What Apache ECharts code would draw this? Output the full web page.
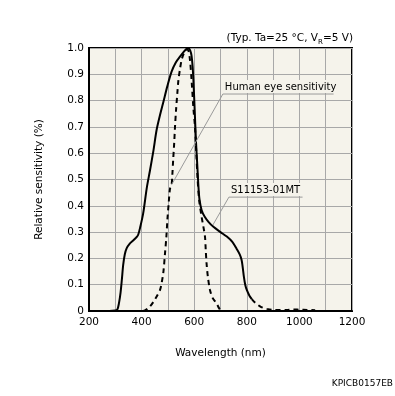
<!DOCTYPE html>
<html>
<head>
<meta charset="utf-8">
<script src="https://cdn.jsdelivr.net/npm/echarts@6/dist/echarts.min.js"></script>
<style>
html,body{margin:0;padding:0;background:#fff;}
#c{width:395px;height:396px;}
</style>
</head>
<body>
<div id="c"></div>
<script>
// Data (wavelength nm, relative sensitivity)
var s11153 = [[200,0],[250,0],[300,0.002],[308,0.006],[314,0.03],[320,0.07],[325,0.12],[330,0.175],[336,0.215],[343,0.238],[355,0.256],[370,0.27],[380,0.28],[387,0.29],[395,0.32],[406,0.371],[420,0.47],[432,0.535],[445,0.61],[457,0.688],[470,0.745],[483,0.796],[498,0.855],[514,0.91],[530,0.945],[546,0.967],[560,0.985],[571,0.996],[578,1.0],[585,0.99],[590,0.97],[594,0.93],[597,0.878],[602,0.76],[607,0.64],[612,0.55],[616,0.475],[620,0.425],[628,0.384],[640,0.358],[655,0.338],[673,0.32],[700,0.30],[724,0.283],[745,0.263],[762,0.235],[773,0.215],[780,0.195],[784,0.17],[789,0.13],[794,0.10],[800,0.08],[810,0.058],[819,0.045]];
var s11153Tail = [[819,0.045],[830,0.033],[840,0.025],[855,0.015],[876,0.008],[900,0.004],[950,0.004],[976,0.006],[1000,0.005],[1030,0.004],[1060,0.003]];
var humanEye = [[405,0],[413,0.002],[430,0.015],[445,0.035],[460,0.06],[470,0.08],[476,0.105],[483,0.15],[489,0.219],[494,0.28],[498,0.346],[503,0.41],[508,0.465],[514,0.48],[517,0.52],[520,0.574],[524,0.64],[527,0.70],[531,0.764],[536,0.83],[540,0.878],[546,0.92],[552,0.954],[560,0.978],[571,0.995],[578,0.99],[584,0.954],[590,0.878],[597,0.77],[603,0.70],[608,0.60],[613,0.50],[619,0.42],[628,0.359],[635,0.32],[641,0.283],[644,0.23],[647,0.181],[652,0.13],[660,0.08],[670,0.05],[685,0.029],[695,0.01],[704,0]];
var xTickLabels = ['200','400','600','800','1000','1200'];
var yTickLabels = ['0','0.1','0.2','0.3','0.4','0.5','0.6','0.7','0.8','0.9','1.0'];

var FONT = 'DejaVu Sans';
var BG = '#f5f3eb';
var chart = echarts.init(document.getElementById('c'), null, {renderer:'canvas'});
var option = {
  animation:false,
  backgroundColor:'#fff',
  textStyle:{fontFamily:FONT},
  grid:{left:89,top:48,width:263,height:263,show:true,backgroundColor:BG,borderColor:'#000',borderWidth:2,containLabel:false},
  xAxis:{
    type:'value',min:200,max:1200,interval:100,
    name:'Wavelength (nm)',nameLocation:'middle',nameGap:37,
    nameTextStyle:{fontFamily:FONT,fontSize:10.5,color:'#000'},
    axisLine:{show:true,lineStyle:{color:'#000',width:2}},
    axisTick:{show:false},
    axisLabel:{margin:6,fontFamily:FONT,fontSize:10.5,color:'#000',
      formatter:function(v){var s=String(Math.round(v));return xTickLabels.indexOf(s)>=0?s:'';}},
    splitLine:{show:true,lineStyle:{color:'#a8a8a8',width:1}}
  },
  yAxis:{
    type:'value',min:0,max:1,interval:0.1,
    name:'Relative sensitivity (%)',nameLocation:'middle',nameGap:44,
    nameTextStyle:{fontFamily:FONT,fontSize:10.5,color:'#000'},
    axisLine:{show:true,lineStyle:{color:'#000',width:2}},
    axisTick:{show:false},
    axisLabel:{margin:5,fontFamily:FONT,fontSize:10.5,color:'#000',
      formatter:function(v){return yTickLabels[Math.round(v*10)];}},
    splitLine:{show:true,lineStyle:{color:'#a8a8a8',width:1}}
  },
  series:[
    {name:'Human eye sensitivity',type:'line',data:humanEye,showSymbol:false,smooth:0.3,
     lineStyle:{color:'#000',width:2,type:[5,4]},z:3},
    {name:'S11153-01MT',type:'line',data:s11153,showSymbol:false,smooth:0.3,
     lineStyle:{color:'#000',width:2},z:4},
    {name:'S11153-01MT tail',type:'line',data:s11153Tail,showSymbol:false,smooth:0.3,
     lineStyle:{color:'#000',width:2,type:[5,4]},z:4}
  ]
};
chart.setOption(option);

// annotations placed from data coordinates
function P(x,y){return chart.convertToPixel({gridIndex:0},[x,y]);}
var eyeA = P(514,0.48), eyeB = P(709,0.825), eyeC = P(1130,0.825);
var sA = P(671,0.327), sB = P(732,0.433), sC = P(1012,0.433);
var g = [
  {type:'line',shape:{x1:eyeA[0],y1:eyeA[1],x2:eyeB[0],y2:eyeB[1]},style:{stroke:'#9a9a9a',lineWidth:1},z:10},
  {type:'line',shape:{x1:eyeB[0],y1:eyeB[1],x2:eyeC[0],y2:eyeC[1]},style:{stroke:'#9a9a9a',lineWidth:1},z:10},
  {type:'text',x:eyeB[0]+1,y:eyeB[1]-1,style:{text:'Human eye sensitivity',font:'10px "DejaVu Sans"',fill:'#000',textAlign:'left',textVerticalAlign:'bottom',backgroundColor:BG,padding:[2,2,1,1]},z:11},
  {type:'line',shape:{x1:sA[0],y1:sA[1],x2:sB[0],y2:sB[1]},style:{stroke:'#9a9a9a',lineWidth:1},z:10},
  {type:'line',shape:{x1:sB[0],y1:sB[1],x2:sC[0],y2:sC[1]},style:{stroke:'#9a9a9a',lineWidth:1},z:10},
  {type:'text',x:sB[0]+1,y:sB[1]-1,style:{text:'S11153-01MT',font:'10px "DejaVu Sans"',fill:'#000',textAlign:'left',textVerticalAlign:'bottom',backgroundColor:BG,padding:[2,2,1,1]},z:11},
  {type:'text',right:42,top:33,style:{rich:{n:{fontFamily:FONT,fontSize:10.5,fill:'#000'},s:{fontFamily:FONT,fontSize:7,fill:'#000',verticalAlign:'bottom',padding:[0,0,-2,0]}},text:'{n|(Typ. Ta=25 °C, V}{s|R}{n|=5 V)}',fill:'#000'},z:11},
  {type:'text',right:2,top:379,style:{text:'KPICB0157EB',font:'9px "DejaVu Sans"',fill:'#000'},z:11}
];
chart.setOption({graphic:g});
</script>
</body>
</html>
